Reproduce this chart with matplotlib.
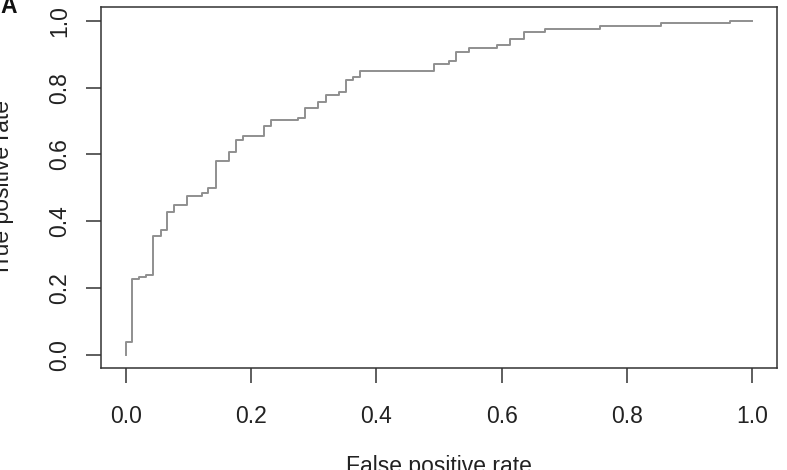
import matplotlib
matplotlib.use("Agg")
import matplotlib.pyplot as plt

plt.rcParams['font.family'] = ['Liberation Sans', 'DejaVu Sans']

# ROC staircase: at each FPR value the curve rises to the given TPR level
fpr = [0.0, 0.0, 0.0101, 0.0207, 0.0314, 0.0436, 0.0553, 0.066, 0.077, 0.098,
       0.1207, 0.131, 0.143, 0.165, 0.1754, 0.187, 0.220, 0.231, 0.275, 0.2855,
       0.3067, 0.319, 0.340, 0.352, 0.3626, 0.374, 0.4928, 0.5157, 0.527, 0.5486,
       0.592, 0.614, 0.635, 0.669, 0.757, 0.854, 0.9644, 1.0]
tpr = [0.0, 0.038, 0.2265, 0.2325, 0.2395, 0.356, 0.374, 0.429, 0.449, 0.477,
       0.486, 0.499, 0.581, 0.607, 0.644, 0.654, 0.684, 0.702, 0.709, 0.739,
       0.756, 0.778, 0.788, 0.823, 0.833, 0.851, 0.870, 0.880, 0.908, 0.918,
       0.928, 0.945, 0.965, 0.975, 0.985, 0.993, 1.0, 1.0]

ticks = [0.0, 0.2, 0.4, 0.6, 0.8, 1.0]
tick_labels = ["0.0", "0.2", "0.4", "0.6", "0.8", "1.0"]

W, H = 787, 470
fig = plt.figure(figsize=(W / 100, H / 100), dpi=100)
ax = fig.add_axes([101 / W, 1 - 368.4 / H, 676 / W, 361 / H])

ax.plot(fpr, tpr, drawstyle='steps-post', color='#8f8f8f', lw=1.4)

ax.set_xlim(-0.04, 1.04)
ax.set_ylim(-0.04, 1.04)
ax.set_xticks(ticks)
ax.set_xticklabels(tick_labels)
ax.set_yticks(ticks)
ax.set_yticklabels(tick_labels, rotation=90, va='center')

fs = 16.5
txtc = '#222222'
ax.tick_params(axis='both', direction='out', length=10.8, width=1.1,
               color='#333333', labelsize=fs, labelcolor=txtc)
ax.tick_params(axis='x', pad=15.5)
ax.tick_params(axis='y', pad=10.5)
for s in ax.spines.values():
    s.set_color('#333333')
    s.set_linewidth(1.1)

# axis titles (partly cut by the figure edge as in the reference)
cy = 1 - ((7.3 + 368.4) / 2) / H
cx = 439 / W
fig.text(cx, 1 - 473 / H, "False positive rate", ha='center', va='baseline',
         fontsize=fs, color=txtc)
fig.text(14 / W, cy, "True positive rate", rotation=90, ha='right',
         va='center', fontsize=fs, color=txtc)
fig.text(0.0, 1 - 13 / H, "A", ha='left', va='baseline', fontsize=fs,
         fontweight='bold', color='#111111')

fig.savefig("out.png", dpi=100)
